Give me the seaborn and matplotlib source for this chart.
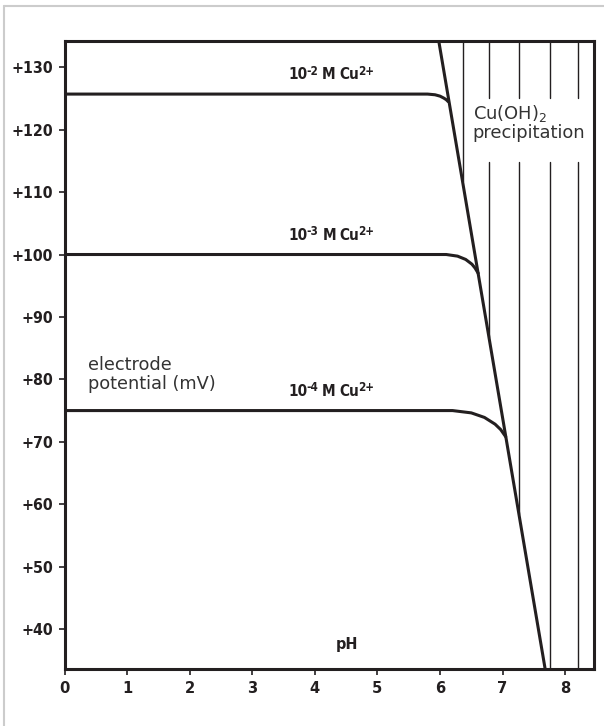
import numpy as np
import pandas as pd
import matplotlib
matplotlib.use("Agg")
import matplotlib.pyplot as plt
import matplotlib.transforms as mtrans
import seaborn as sns
from matplotlib.lines import Line2D
from matplotlib import font_manager as fm

# ---------------- data ----------------
ph_ticks = [0, 1, 2, 3, 4, 5, 6, 7, 8]
mv_ticks = [40, 50, 60, 70, 80, 90, 100, 110, 120, 130]
mv_tick_labels = ["+40", "+50", "+60", "+70", "+80", "+90", "+100", "+110", "+120", "+130"]

# 10^-2 M Cu2+
c2_ph = [0.0, 5.80, 5.92, 6.00, 6.06, 6.10, 6.13]
c2_mv = [125.7, 125.7, 125.59, 125.37, 125.06, 124.8, 124.5]
# 10^-3 M Cu2+
c3_ph = [0.0, 6.10, 6.28, 6.41, 6.51, 6.56, 6.61]
c3_mv = [100.0, 100.0, 99.74, 99.21, 98.45, 97.83, 97.0]
# 10^-4 M Cu2+
c4_ph = [0.0, 6.20, 6.50, 6.71, 6.88, 6.97, 7.05]
c4_mv = [75.0, 75.0, 74.63, 73.9, 72.82, 71.95, 70.8]

curve_names = ["1e-2", "1e-3", "1e-4"]
curve_exps = ["-2", "-3", "-4"]

# precipitation boundary
steep_ph = [5.98, 7.68]
steep_mv = [134.2, 33.6]

# hatch lines of the precipitation region
hatch_ph = [6.36, 6.78, 7.26, 7.76, 8.20]

# ---------------- style ----------------
INK = "#231f20"
DPI = 100
fig = plt.figure(figsize=(6.04, 7.26), dpi=DPI)
sns.set_style("white")
plt.rcParams["font.family"] = ["DejaVu Sans"]

names = {f.name for f in fm.fontManager.ttflist}
cond_bold = None
for f in fm.fontManager.ttflist:
    if f.name == "DejaVu Sans" and "Condensed" in f.fname and "Bold" in f.fname and "Oblique" not in f.fname:
        cond_bold = f.fname
        break
if cond_bold:
    bold_fp = lambda s: fm.FontProperties(fname=cond_bold, size=s)
elif "Liberation Sans Narrow" in names:
    bold_fp = lambda s: fm.FontProperties(family="Liberation Sans Narrow", weight="bold", size=s)
else:
    bold_fp = lambda s: fm.FontProperties(family="Liberation Sans", weight="bold", size=s)

ax = fig.add_axes([0.1068, 0.0785, 0.9834 - 0.1068, 0.9435 - 0.0785])
xlim = (0, 8.46)
ylim = (33.6, 134.2)

curves = pd.concat([
    pd.DataFrame({"pH": c2_ph, "mV": c2_mv, "c": curve_names[0]}),
    pd.DataFrame({"pH": c3_ph, "mV": c3_mv, "c": curve_names[1]}),
    pd.DataFrame({"pH": c4_ph, "mV": c4_mv, "c": curve_names[2]}),
])
sns.lineplot(data=curves, x="pH", y="mV", units="c", estimator=None, sort=False,
             color=INK, lw=2.2, ax=ax, legend=False)

sns.lineplot(x=steep_ph, y=steep_mv, color=INK, lw=2.2, ax=ax, sort=False,
             estimator=None, legend=False)

# hatch lines: from the boundary up to the top, with a gap under the label
gap = (114.8, 125.0)
for p in hatch_ph:
    lo = steep_mv[0] + (p - steep_ph[0]) * (steep_mv[1] - steep_mv[0]) / (steep_ph[1] - steep_ph[0])
    lo = max(lo, ylim[0])
    if p > 6.5:
        segs = [(lo, gap[0]), (gap[1], ylim[1])]
    else:
        segs = [(lo, ylim[1])]
    for a, b in segs:
        sns.lineplot(x=[p, p], y=[a, b], color=INK, lw=1.0, ax=ax, sort=False,
                     estimator=None, legend=False)

ax.set_xlim(*xlim)
ax.set_ylim(*ylim)
ax.set_xticks(ph_ticks)
ax.set_xticklabels([str(t) for t in ph_ticks])
ax.set_yticks(mv_ticks)
ax.set_yticklabels(mv_tick_labels)
ax.set_xlabel("")
ax.set_ylabel("")
for s in ax.spines.values():
    s.set_visible(True)
    s.set_color(INK)
    s.set_linewidth(2.2)
ax.tick_params(axis="both", direction="out", length=4, width=1.2, color=INK,
               labelcolor=INK, pad=4.3, left=True, bottom=True)
for lab in ax.get_yticklabels():
    lab.set_fontproperties(bold_fp(11.4))
for lab in ax.get_xticklabels():
    lab.set_fontproperties(bold_fp(11.8))

# rich text helper (superscripts)
fig.canvas.draw()
renderer = fig.canvas.get_renderer()


def rich(x, y, pieces):
    """pieces: (text, size, rise_pt, gap_before_pt)"""
    xoff = 0.0
    for txt, size, rise, gapb in pieces:
        xoff += gapb
        tr = mtrans.offset_copy(ax.transData, fig=fig, x=xoff, y=rise, units="points")
        t = ax.text(x, y, txt, transform=tr, ha="left", va="baseline",
                    fontproperties=bold_fp(size), color=INK)
        w = t.get_window_extent(renderer).width * 72.0 / DPI
        xoff += w


MAIN, SUP = 11.0, 8.4
lab_base_mv = [128.1, 102.4, 77.4]
for e, yv in zip(curve_exps, lab_base_mv):
    rich(3.58, yv, [("10", MAIN, 0, 0), (e, SUP, 3.3, -0.6), ("M", MAIN, 0, 2.6),
                    ("Cu", MAIN, 0, 2.6), ("2+", SUP, 3.3, -0.7)])

ax.text(4.51, 36.8, "pH", ha="center", va="baseline", fontproperties=bold_fp(11.5),
        color=INK)
ax.text(0.38, 80.8, "electrode\npotential (mV)", ha="left", va="center",
        family=["DejaVu Sans"], fontsize=12.8, color="#333333", linespacing=1.05)
ax.text(6.52, 121.1, "Cu(OH)$_2$\nprecipitation", ha="left", va="center",
        family=["DejaVu Sans"], fontsize=12.9, color="#333333", linespacing=1.0)

# light frame (top and left only)
fig.add_artist(Line2D([3.5 / 604, 1.0], [1 - 6 / 726, 1 - 6 / 726],
                      transform=fig.transFigure, color="#cccccc", lw=1.5))
fig.add_artist(Line2D([3.5 / 604, 3.5 / 604], [0, 1 - 6 / 726],
                      transform=fig.transFigure, color="#cccccc", lw=1.5))

fig.savefig("out.png", dpi=DPI)
